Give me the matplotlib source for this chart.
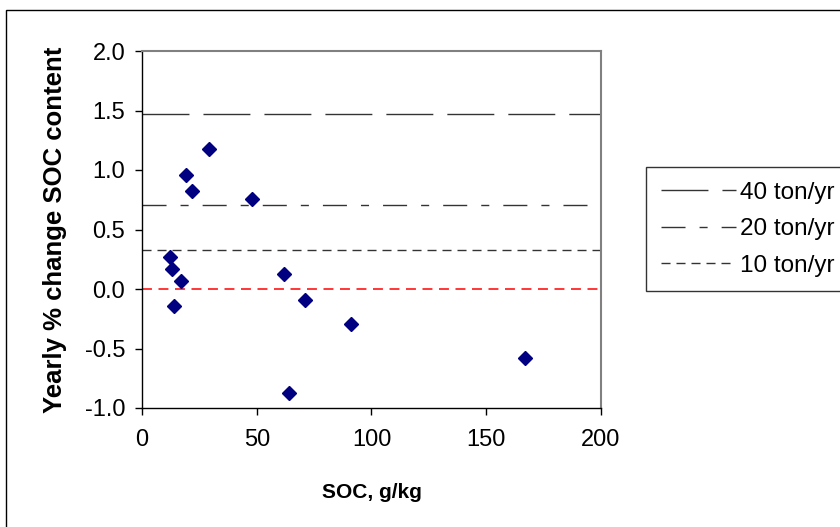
import matplotlib.pyplot as plt
from matplotlib.patches import Rectangle

plt.rcParams['font.family'] = ['Liberation Sans', 'DejaVu Sans']

# SOC (g/kg) vs yearly % change in SOC content
soc = [12, 13, 17, 14, 19, 22, 29, 48, 62, 64, 71, 91, 167]
change = [0.27, 0.17, 0.07, -0.14, 0.96, 0.82, 1.18, 0.76, 0.13, -0.87, -0.09, -0.29, -0.58]

# reference rates (horizontal lines)
rate_labels = ['40 ton/yr', '20 ton/yr', '10 ton/yr']
rate_values = [1.47, 0.71, 0.33]

x_ticks = [0, 50, 100, 150, 200]
y_ticks = [-1.0, -0.5, 0.0, 0.5, 1.0, 1.5, 2.0]

W, H = 840, 527
fig = plt.figure(figsize=(W / 100, H / 100), dpi=100)
ax = fig.add_axes([142 / W, 1 - 408 / H, (601 - 142) / W, (408 - 51) / H])

# outer chart border (runs off the right and bottom edges)
fig.patches.append(Rectangle((6 / W, -0.5), 2, 1.5 - 10 / H, transform=fig.transFigure,
                             fill=False, edgecolor='black', linewidth=1.0))

dash_styles = [(0, (33.8, 10.1)),
               (0, (17.3, 10.1, 5.8, 10.1)),
               (0, (6.5, 4.3))]
for val, lab, ds in zip(rate_values, rate_labels, dash_styles):
    ax.axhline(val, color='#333333', linewidth=1.0, linestyle=ds, label=lab)

ax.axhline(0, color='#ff0000', linewidth=1.1, linestyle=(0, (6.5, 4.3)), zorder=1)

ax.plot(soc, change, linestyle='none', marker='D', markersize=7.5,
        color='#000080', markeredgecolor='#000080', zorder=3)

ax.set_xlim(0, 200)
ax.set_ylim(-1.0, 2.0)
ax.set_xticks(x_ticks)
ax.set_yticks(y_ticks)
ax.set_yticklabels([f'{v:.1f}' for v in y_ticks])
ax.tick_params(axis='both', direction='out', length=5, width=1, labelsize=17)
ax.tick_params(axis='x', pad=10)
ax.tick_params(axis='y', pad=7)

for side in ['left', 'bottom']:
    ax.spines[side].set_color('black')
    ax.spines[side].set_linewidth(1.0)
for side in ['top', 'right']:
    ax.spines[side].set_color('#808080')
    ax.spines[side].set_linewidth(1.5)

ax.set_xlabel('SOC, g/kg', fontsize=15, fontweight='bold')
ax.xaxis.set_label_coords(0.5, -0.21)
ax.set_ylabel('Yearly % change SOC content', fontsize=18.5, fontweight='bold')
ax.yaxis.set_label_coords(-0.163, 0.5)

leg = ax.legend(loc='upper left', bbox_to_anchor=(646 / W, 1 - 167 / H),
                bbox_transform=fig.transFigure, fontsize=17.5, frameon=True,
                fancybox=False, shadow=False, borderaxespad=0, borderpad=0.6,
                handlelength=3.1, handletextpad=0.15, labelspacing=0.6)
leg.get_frame().set_edgecolor('black')
leg.get_frame().set_linewidth(1.0)

fig.savefig('out.png', dpi=100)
